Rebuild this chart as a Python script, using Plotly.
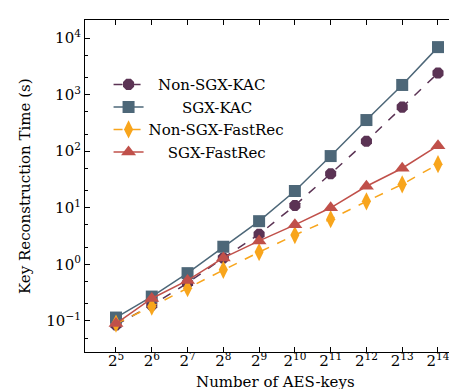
import plotly.graph_objects as go

exponents = [5, 6, 7, 8, 9, 10, 11, 12, 13, 14]
num_keys = [2 ** e for e in exponents]
x_tick_labels = [f"2<sup>{e}</sup>" for e in exponents]

non_sgx_kac = [0.085, 0.19, 0.47, 1.3, 3.4, 11, 40, 150, 600, 2400]
sgx_kac = [0.115, 0.27, 0.70, 2.05, 5.8, 19.8, 82, 355, 1480, 6900]
non_sgx_fastrec = [0.09, 0.18, 0.38, 0.80, 1.65, 3.3, 6.3, 13, 26, 59]
sgx_fastrec = [0.09, 0.25, 0.52, 1.3, 2.6, 5.0, 10, 24, 50, 125]

y_tick_vals = [0.1, 1, 10, 100, 1000, 10000]
y_tick_labels = ["10<sup>\u22121</sup>", "10<sup>0</sup>", "10<sup>1</sup>",
                 "10<sup>2</sup>", "10<sup>3</sup>", "10<sup>4</sup>"]

FONT = "DejaVu Serif"
NB = "\u00a0"

fig = go.Figure()
fig.add_trace(go.Scatter(
    x=num_keys, y=non_sgx_kac, mode="lines+markers", name=NB * 2 + "Non-SGX-KAC",
    line=dict(color="#5b3354", width=1.5, dash="dash"),
    marker=dict(symbol="octagon", size=12, color="#5b3354")))
fig.add_trace(go.Scatter(
    x=num_keys, y=sgx_kac, mode="lines+markers", name=NB * 7 + "SGX-KAC",
    line=dict(color="#4d6778", width=1.5),
    marker=dict(symbol="square", size=12, color="#4d6778")))
fig.add_trace(go.Scatter(
    x=num_keys, y=non_sgx_fastrec, mode="lines+markers", name="Non-SGX-FastRec",
    line=dict(color="#f8a51c", width=1.5, dash="dash"),
    marker=dict(symbol="diamond-tall", size=13, color="#f8a51c")))
fig.add_trace(go.Scatter(
    x=num_keys, y=sgx_fastrec, mode="lines+markers", name=NB * 4 + "SGX-FastRec",
    line=dict(color="#c0504a", width=1.5),
    marker=dict(symbol="triangle-up", size=13, color="#c0504a")))

fig.update_layout(
    width=457, height=389,
    margin=dict(l=77, r=0, t=12, b=45),
    paper_bgcolor="white", plot_bgcolor="white",
    font=dict(family=FONT, size=15, color="black"),
    showlegend=True,
    legend=dict(x=0.062, y=0.855, xanchor="left", yanchor="top",
                bgcolor="rgba(0,0,0,0)", font=dict(family=FONT, size=15),
                tracegroupgap=0),
    annotations=[
        dict(text="Number of AES-keys", xref="paper", yref="paper",
             x=0.5, y=-0.058, xanchor="center", yanchor="top",
             showarrow=False, font=dict(family=FONT, size=15)),
        dict(text="Key Reconstruction Time (s)", xref="paper", yref="paper",
             x=-0.158, y=0.5, xanchor="center", yanchor="middle", textangle=-90,
             showarrow=False, font=dict(family=FONT, size=15)),
    ],
)
fig.update_xaxes(
    type="log", range=[1.2444, 4.4417],
    tickvals=num_keys, ticktext=x_tick_labels,
    ticks="inside", ticklen=5, tickcolor="black",
    ticklabelstandoff=-5,
    showline=True, linecolor="black", linewidth=1.2, mirror="ticks",
    showgrid=False, zeroline=False,
    tickfont=dict(family=FONT, size=15),
)
fig.update_yaxes(
    type="log", range=[-1.548, 4.318],
    tickvals=y_tick_vals, ticktext=y_tick_labels,
    ticks="inside", ticklen=5, tickcolor="black",
    minor=dict(ticks="inside", ticklen=3, tickcolor="black", showgrid=False),
    showline=True, linecolor="black", linewidth=1.2, mirror="ticks",
    showgrid=False, zeroline=False,
    tickfont=dict(family=FONT, size=15),
)

fig.write_html("out.html")
